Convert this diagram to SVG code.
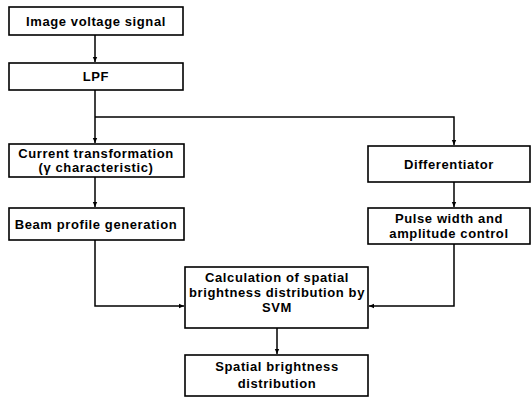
<svg xmlns="http://www.w3.org/2000/svg" width="532" height="398" viewBox="0 0 532 398">
<style>
.box{fill:#fff;stroke:#000;stroke-width:1.6}
.t{font-family:"Liberation Sans",Arial,sans-serif;font-size:13px;font-weight:bold;letter-spacing:0.6px;text-anchor:middle;fill:#000}
.c{fill:none;stroke:#000;stroke-width:1.5}
</style>
<defs>
<marker id="a" markerWidth="6" markerHeight="6" refX="5" refY="3" orient="auto" markerUnits="userSpaceOnUse">
<path d="M0,0.8 L5,3 L0,5.2 Z" fill="#000"/>
</marker>
</defs>
<rect width="532" height="398" fill="#fff"/>
<g id="connectors">
<path class="c" d="M95,35 V62" marker-end="url(#a)"/>
<path class="c" d="M95,90 V143" marker-end="url(#a)"/>
<path class="c" d="M95,117 H454 V145" marker-end="url(#a)"/>
<path class="c" d="M95,177 V207" marker-end="url(#a)"/>
<path class="c" d="M454,182 V207" marker-end="url(#a)"/>
<path class="c" d="M95,240 V306 H184" marker-end="url(#a)"/>
<path class="c" d="M454,244 V306 H369" marker-end="url(#a)"/>
<path class="c" d="M277,328 V354" marker-end="url(#a)"/>
</g>
<g id="n1"><rect class="box" x="9" y="7" width="174" height="28"/><text class="t" x="96" y="26">Image voltage signal</text></g>
<g id="n2"><rect class="box" x="9" y="63" width="174" height="27"/><text class="t" x="96" y="81">LPF</text></g>
<g id="n3"><rect class="box" x="9" y="144" width="175" height="33"/><text class="t" x="96" y="158">Current transformation</text><text class="t" x="96" y="172">(γ characteristic)</text></g>
<g id="n4"><rect class="box" x="9" y="208" width="175" height="32"/><text class="t" x="96" y="229">Beam profile generation</text></g>
<g id="n5"><rect class="box" x="368" y="146" width="162" height="36"/><text class="t" x="449" y="169">Differentiator</text></g>
<g id="n6"><rect class="box" x="368" y="208" width="162" height="36"/><text class="t" x="449" y="223">Pulse width and</text><text class="t" x="449" y="238">amplitude control</text></g>
<g id="n7"><rect class="box" x="185" y="267" width="183" height="61"/><text class="t" x="277" y="282">Calculation of spatial</text><text class="t" x="277" y="297">brightness distribution by</text><text class="t" x="277" y="312">SVM</text></g>
<g id="n8"><rect class="box" x="185" y="355" width="183" height="41"/><text class="t" x="277" y="371">Spatial brightness</text><text class="t" x="277" y="388">distribution</text></g>
</svg>
